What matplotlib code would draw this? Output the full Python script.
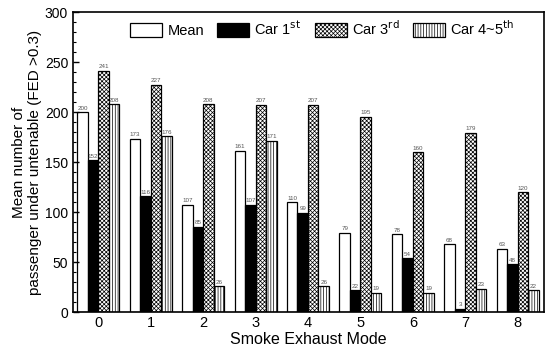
import matplotlib
matplotlib.use("Agg")
import matplotlib.pyplot as plt
import numpy as np

plt.rcParams['font.family'] = ['Liberation Sans', 'DejaVu Sans']
plt.rcParams['hatch.linewidth'] = 0.5

modes = [0, 1, 2, 3, 4, 5, 6, 7, 8]
mean_vals = [200, 173, 107, 161, 110, 79, 78, 68, 63]
car1_vals = [152, 116, 85, 107, 99, 22, 54, 3, 48]
car3_vals = [241, 227, 208, 207, 207, 195, 160, 179, 120]
car45_vals = [208, 176, 26, 171, 26, 19, 19, 23, 22]
series_names = ['Mean', 'Car 1$^{\\mathrm{st}}$', 'Car 3$^{\\mathrm{rd}}$', 'Car 4~5$^{\\mathrm{th}}$']

fig = plt.figure(figsize=(5.5, 3.47), dpi=100)
ax = fig.add_axes([73/550, 1-312/347, (544-73)/550, (312-12)/347])

x = np.arange(len(modes))
w = 0.2
series = [mean_vals, car1_vals, car3_vals, car45_vals]
faces = ['white', 'black', 'white', 'white']
hatches = [None, None, 'xxxxxxxx', '||||||']
for i, (vals, fc, h, name) in enumerate(zip(series, faces, hatches, series_names)):
    ax.bar(x + (i - 1.5) * w, vals, w, color=fc, edgecolor='black',
           linewidth=0.9, hatch=h, label=name)
    for xi, v in zip(x + (i - 1.5) * w, vals):
        ax.text(xi, v + 1.5, str(v), ha='center', va='bottom', fontsize=4.5, color='#555555')

ax.set_xlim(-0.48, 8.5)
ax.set_ylim(0, 300)
ax.set_xticks(x)
ax.set_xticklabels([str(m) for m in modes])
ax.set_yticks(np.arange(0, 301, 50))
ax.set_yticks(np.arange(0, 301, 10), minor=True)
ax.tick_params(axis='y', which='major', direction='in', length=4, width=1, labelsize=10)
ax.tick_params(axis='y', which='minor', direction='in', length=2, width=0.8)
ax.tick_params(axis='x', which='major', direction='in', length=0, labelsize=10.5, pad=3)
for s in ax.spines.values():
    s.set_linewidth(1.2)

ax.set_xlabel('Smoke Exhaust Mode', fontsize=11.5, labelpad=1)
ax.set_ylabel('Mean number of\npassenger under untenable (FED >0.3)', fontsize=11, labelpad=2)

leg = ax.legend(loc='upper left', bbox_to_anchor=(0.106, 1.0), ncol=4, fontsize=10.5,
                frameon=False, handlelength=2.2, handleheight=1.05, columnspacing=0.9,
                handletextpad=0.35, borderpad=0.5, borderaxespad=0.0)

fig.savefig('out.png', dpi=100)
